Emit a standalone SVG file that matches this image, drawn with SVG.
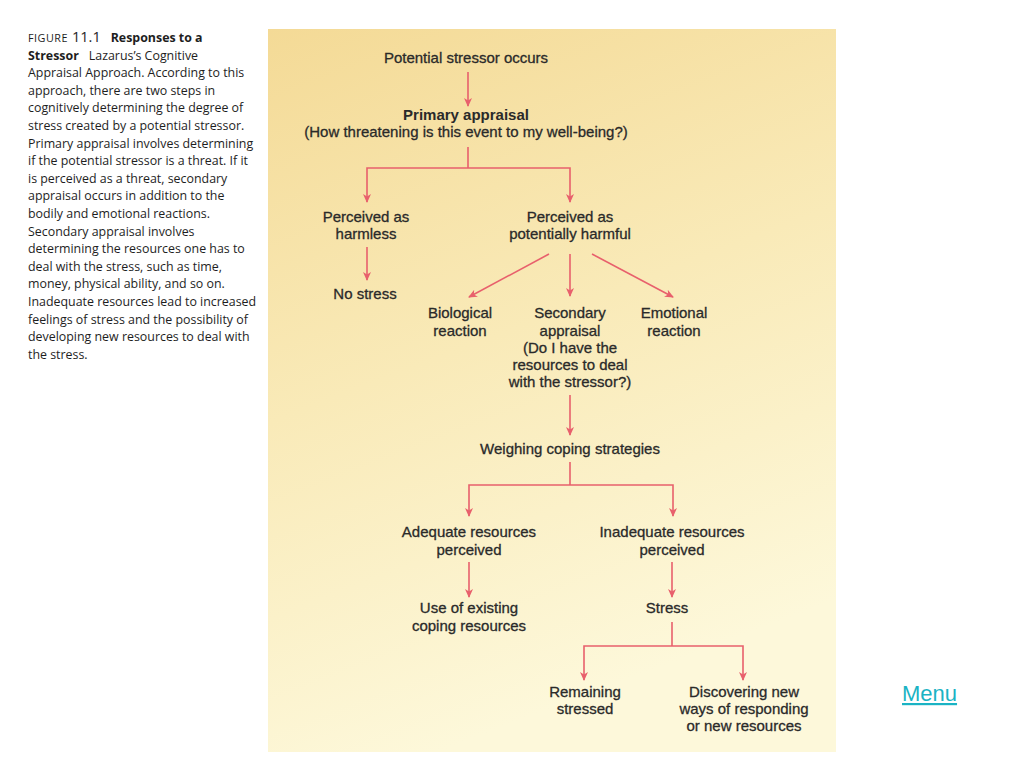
<svg xmlns="http://www.w3.org/2000/svg" width="1024" height="768" viewBox="0 0 1024 768">
<defs>
<linearGradient id="bg" x1="0" y1="0" x2="0.3" y2="1">
<stop offset="0" stop-color="#f4da96"/>
<stop offset="0.5" stop-color="#f9eab8"/>
<stop offset="1" stop-color="#fdf8da"/>
</linearGradient>
<marker id="ah" viewBox="0 0 9 10" refX="8" refY="5" markerWidth="9" markerHeight="10" markerUnits="userSpaceOnUse" orient="auto">
<path d="M0,1 L9,5 L0,9 L2.5,5 Z" fill="#e8606c"/>
</marker>
<style>
.cap{font-family:"Open Sans","Liberation Sans",sans-serif;font-size:12.4px;fill:#1e1e1e}
.b{font-weight:bold}
.t{font-family:"Liberation Sans",Arial,sans-serif;font-size:15px;fill:#2a2a2a;text-anchor:middle;stroke:#2a2a2a;stroke-width:0.3}
.tb{font-weight:bold;stroke-width:0}
.c{fill:none;stroke:#e8606c;stroke-width:1.6}
.a{marker-end:url(#ah)}
</style>
</defs>
<rect width="1024" height="768" fill="#ffffff"/>
<rect x="268" y="29" width="568" height="723" fill="url(#bg)"/>
<g id="caption">
<text class="cap" x="28" y="42"><tspan font-size="10.8" letter-spacing="0.5">FIGURE</tspan><tspan font-size="14.5" dx="4">11.1</tspan><tspan class="b" dx="10">Responses to a</tspan></text>
<text class="cap" x="28" y="59.6"><tspan class="b">Stressor</tspan><tspan dx="10">Lazarus’s Cognitive</tspan></text>
<text class="cap" x="28" y="77.2">Appraisal Approach. According to this</text>
<text class="cap" x="28" y="94.8">approach, there are two steps in</text>
<text class="cap" x="28" y="112.4">cognitively determining the degree of</text>
<text class="cap" x="28" y="130">stress created by a potential stressor.</text>
<text class="cap" x="28" y="147.6">Primary appraisal involves determining</text>
<text class="cap" x="28" y="165.2">if the potential stressor is a threat. If it</text>
<text class="cap" x="28" y="182.8">is perceived as a threat, secondary</text>
<text class="cap" x="28" y="200.4">appraisal occurs in addition to the</text>
<text class="cap" x="28" y="218">bodily and emotional reactions.</text>
<text class="cap" x="28" y="235.6">Secondary appraisal involves</text>
<text class="cap" x="28" y="253.2">determining the resources one has to</text>
<text class="cap" x="28" y="270.8">deal with the stress, such as time,</text>
<text class="cap" x="28" y="288.4">money, physical ability, and so on.</text>
<text class="cap" x="28" y="306">Inadequate resources lead to increased</text>
<text class="cap" x="28" y="323.6">feelings of stress and the possibility of</text>
<text class="cap" x="28" y="341.2">developing new resources to deal with</text>
<text class="cap" x="28" y="358.8">the stress.</text>
</g>
<g id="connectors">
<line class="c a" x1="468" y1="72" x2="468" y2="106"/>
<polyline class="c" points="468,147 468,168"/>
<polyline class="c a" points="468,168 367,168 367,202"/>
<polyline class="c a" points="468,168 570,168 570,202"/>
<line class="c a" x1="367" y1="247" x2="367" y2="280"/>
<line class="c a" x1="549" y1="254" x2="469" y2="297"/>
<line class="c a" x1="570" y1="254" x2="570" y2="296"/>
<line class="c a" x1="592" y1="254" x2="673" y2="297"/>
<line class="c a" x1="570" y1="395" x2="570" y2="435"/>
<polyline class="c" points="570,462 570,485"/>
<polyline class="c a" points="570,485 469,485 469,516"/>
<polyline class="c a" points="570,485 673,485 673,516"/>
<line class="c a" x1="469" y1="562" x2="469" y2="597"/>
<line class="c a" x1="672" y1="562" x2="672" y2="597"/>
<polyline class="c" points="672,622 672,646"/>
<polyline class="c a" points="672,646 584,646 584,680"/>
<polyline class="c a" points="672,646 743,646 743,680"/>
</g>
<g id="n-potential"><text class="t" x="466" y="63">Potential stressor occurs</text></g>
<g id="n-primary"><text class="t tb" x="466" y="120">Primary appraisal</text><text class="t" x="466" y="137">(How threatening is this event to my well-being?)</text></g>
<g id="n-harmless"><text class="t" x="366" y="222">Perceived as</text><text class="t" x="366" y="239">harmless</text></g>
<g id="n-harmful"><text class="t" x="570" y="222">Perceived as</text><text class="t" x="570" y="239">potentially harmful</text></g>
<g id="n-nostress"><text class="t" x="365" y="299">No stress</text></g>
<g id="n-bio"><text class="t" x="460" y="318">Biological</text><text class="t" x="460" y="336">reaction</text></g>
<g id="n-secondary"><text class="t" x="570" y="318">Secondary</text><text class="t" x="570" y="336">appraisal</text><text class="t" x="570" y="353">(Do I have the</text><text class="t" x="570" y="370">resources to deal</text><text class="t" x="570" y="387">with the stressor?)</text></g>
<g id="n-emo"><text class="t" x="674" y="318">Emotional</text><text class="t" x="674" y="336">reaction</text></g>
<g id="n-weighing"><text class="t" x="570" y="454">Weighing coping strategies</text></g>
<g id="n-adequate"><text class="t" x="469" y="537">Adequate resources</text><text class="t" x="469" y="555">perceived</text></g>
<g id="n-inadequate"><text class="t" x="672" y="537">Inadequate resources</text><text class="t" x="672" y="555">perceived</text></g>
<g id="n-use"><text class="t" x="469" y="613">Use of existing</text><text class="t" x="469" y="631">coping resources</text></g>
<g id="n-stress"><text class="t" x="667" y="613">Stress</text></g>
<g id="n-remaining"><text class="t" x="585" y="697">Remaining</text><text class="t" x="585" y="714">stressed</text></g>
<g id="n-discover"><text class="t" x="744" y="697">Discovering new</text><text class="t" x="744" y="714">ways of responding</text><text class="t" x="744" y="731">or new resources</text></g>
<g id="menu"><text x="902" y="701" font-family="Liberation Sans,Arial,sans-serif" font-size="22" fill="#1ab3c4" text-decoration="underline">Menu</text></g>
</svg>
